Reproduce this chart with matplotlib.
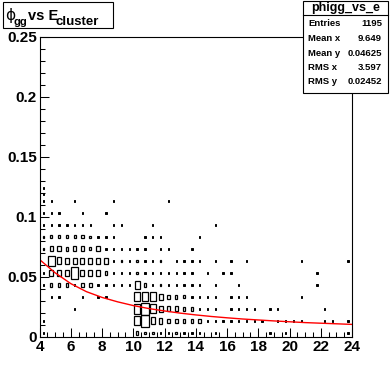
import numpy as np
import matplotlib
matplotlib.use("Agg")
import matplotlib.pyplot as plt
from matplotlib.patches import Rectangle

plt.rcParams["font.family"] = ["Liberation Sans", "DejaVu Sans"]
plt.rcParams["font.weight"] = "bold"

# ===== dados =====
# bins em x: 40 bins de 0.5 entre 4 e 24 (indice da coluna -> centro 4.25 + 0.5*c)
x_min, x_max, n_xbins = 4.0, 24.0, 40
y_bin = 0.01

# centro das linhas (phi_gg) que têm entradas
row_y = [0.0035, 0.0135, 0.0235, 0.0335, 0.0435, 0.0535, 0.0635,
         0.0735, 0.0835, 0.0935, 0.1035, 0.1135, 0.119, 0.1245]

# colunas ocupadas e contagens, linha a linha
row_cols = [
    [0, 12, 13, 14, 15, 16, 17, 18, 19, 20, 22, 29, 31, 39],
    [0, 12, 13, 14, 15, 16, 17, 18, 19, 20, 21, 22, 23, 24, 25, 26, 27, 28, 30, 31, 32, 33, 36, 37, 39],
    [4, 12, 13, 14, 15, 16, 17, 18, 19, 20, 21, 22, 24, 25, 26, 27, 29, 30, 36],
    [1, 2, 5, 7, 8, 12, 13, 14, 15, 16, 17, 18, 19, 20, 21, 22, 24, 25, 26, 33],
    [0, 1, 2, 3, 4, 5, 6, 7, 8, 9, 10, 11, 12, 13, 14, 15, 16, 17, 18, 19, 20, 22, 25, 35],
    [0, 1, 2, 3, 4, 5, 6, 7, 8, 9, 10, 11, 12, 13, 14, 15, 16, 17, 18, 19, 21, 23, 24, 35],
    [1, 2, 3, 4, 5, 6, 7, 8, 9, 10, 11, 12, 13, 14, 15, 17, 18, 19, 20, 22, 24, 26, 33, 39],
    [0, 1, 2, 3, 4, 5, 6, 7, 8, 9, 10, 11, 12, 13, 15, 16, 19],
    [0, 1, 2, 3, 4, 5, 6, 7, 8, 9, 13, 14, 15, 20],
    [0, 1, 2, 3, 4, 5, 6, 9, 10, 14, 22],
    [0, 1, 2, 5, 8],
    [0, 1, 4, 9, 16],
    [0],
    [0],
]
row_counts = [
    [1, 6, 3, 3, 1, 1, 3, 1, 1, 1, 1, 1, 1, 1],
    [1, 36, 60, 22, 14, 7, 8, 7, 7, 6, 1, 1, 1, 1, 1, 1, 1, 1, 1, 1, 1, 1, 1, 1, 1],
    [1, 48, 66, 36, 18, 10, 10, 6, 6, 2, 1, 1, 1, 1, 1, 1, 1, 1, 1],
    [1, 1, 1, 1, 1, 36, 38, 38, 17, 6, 6, 5, 1, 1, 1, 1, 1, 1, 1, 1],
    [1, 7, 7, 6, 2, 7, 8, 2, 1, 1, 1, 1, 29, 8, 1, 3, 1, 1, 1, 1, 1, 1, 1, 1],
    [2, 14, 19, 17, 60, 17, 19, 17, 7, 1, 1, 1, 3, 2, 1, 1, 1, 1, 1, 1, 1, 1, 1, 1],
    [50, 22, 17, 19, 17, 19, 14, 17, 1, 3, 1, 3, 1, 1, 3, 1, 1, 1, 1, 1, 1, 1, 1, 1],
    [3, 11, 11, 7, 11, 11, 5, 11, 1, 1, 1, 1, 2, 1, 1, 1, 1],
    [3, 5, 5, 5, 5, 5, 3, 1, 1, 1, 1, 1, 1, 1],
    [1, 1, 1, 1, 1, 2, 2, 1, 1, 1, 1],
    [1, 1, 1, 1, 1],
    [1, 1, 1, 1, 1],
    [1],
    [1],
]

# curva do ajuste (lida ponto a ponto)
curve_x = [4, 5, 6, 7, 8, 9, 10, 11, 12, 13, 14, 15, 16, 17, 18, 19, 20, 21, 22, 23, 24]
curve_y = [0.0646, 0.0535, 0.0445, 0.0378, 0.0330, 0.0293, 0.0262, 0.0237, 0.0217,
           0.0199, 0.0184, 0.0171, 0.0160, 0.0150, 0.0142, 0.0134, 0.0127, 0.0120,
           0.0115, 0.0110, 0.0105]

stats_labels = ["Entries", "Mean x", "Mean y", "RMS x", "RMS y"]
stats_values = ["1195", "9.649", "0.04625", "3.597", "0.02452"]

# ===== figura =====
W, H = 392, 376
fig = plt.figure(figsize=(W / 100, H / 100), dpi=100)
fig.patch.set_facecolor("white")

def fx(px):
    return px / W

def fy(py):
    return 1 - py / H

ax = fig.add_axes([fx(39.5), fy(337), (352 - 39.5) / W, (337 - 37) / H])
ax.set_xlim(x_min, x_max)
ax.set_ylim(0, 0.25)

x_step = (x_max - x_min) / n_xbins
nmax = max(max(c) for c in row_counts)
for yc, cols, counts in zip(row_y, row_cols, row_counts):
    for c, n in zip(cols, counts):
        xc = x_min + x_step * (c + 0.5)
        r = np.sqrt(n / nmax)
        hw = 0.5 * x_step * r
        hh = 0.5 * y_bin * r
        if hw < 0.05:
            # caixas muito pequenas viram um quadradinho cheio
            hw = max(hw, 0.045)
            hh = max(hh, 0.0009)
            ax.add_patch(Rectangle((xc - hw, yc - hh), 2 * hw, 2 * hh,
                                   facecolor="black", edgecolor="black", lw=0.7))
        else:
            ax.add_patch(Rectangle((xc - hw, yc - hh), 2 * hw, 2 * hh,
                                   facecolor="none", edgecolor="black", lw=0.9))

ax.plot(curve_x, curve_y, color="red", lw=1.0)

ax.set_xticks(np.arange(4, 25, 2))
ax.set_xticks(np.arange(4, 24.01, 0.5), minor=True)
ax.set_yticks([0, 0.05, 0.1, 0.15, 0.2, 0.25])
ax.set_yticklabels(["0", "0.05", "0.1", "0.15", "0.2", "0.25"])
ax.set_yticks(np.arange(0, 0.2501, 0.01), minor=True)
ax.tick_params(which="both", direction="in", top=False, right=False, width=0.75,
               labelsize=11)
ax.tick_params(which="major", length=6.5)
ax.tick_params(which="minor", length=3.6)
ax.tick_params(axis="y", pad=2)
ax.tick_params(axis="x", pad=2.5)
for lab in ax.get_xticklabels() + ax.get_yticklabels():
    lab.set_fontweight("bold")
for sp in ax.spines.values():
    sp.set_linewidth(0.8)

# ===== caixa do título =====
fig.add_artist(Rectangle((fx(2.7), fy(28.3)), (113 - 2.7) / W, (28.3 - 1.7) / H,
                         transform=fig.transFigure, facecolor="white",
                         edgecolor="black", lw=0.8, zorder=5))
fig.text(fx(5), fy(20), "\u03d5", fontsize=11, family="DejaVu Sans",
         fontweight="normal", va="baseline", zorder=6)
fig.text(fx(13.5), fy(25), "gg", fontsize=8, fontweight="bold", va="baseline", zorder=6)
fig.text(fx(28), fy(20), "vs E", fontsize=10.5, fontweight="bold", va="baseline", zorder=6)
fig.text(fx(56), fy(25), "cluster", fontsize=9.5, fontweight="bold", va="baseline", zorder=6)

# ===== caixa de estatísticas =====
fig.add_artist(Rectangle((fx(303.3), fy(92.7)), (388.3 - 303.3) / W, (92.7 - 0.7) / H,
                         transform=fig.transFigure, facecolor="white",
                         edgecolor="black", lw=0.8, zorder=5))
fig.add_artist(plt.Line2D([fx(303.3), fx(388.3)], [fy(15), fy(15)],
                          transform=fig.transFigure, color="black", lw=0.8, zorder=6))
fig.text(fx(345.8), fy(8), "phigg_vs_e", fontsize=9, fontweight="bold",
         ha="center", va="center", zorder=6)
for i, (lab, val) in enumerate(zip(stats_labels, stats_values)):
    ypos = fy(24 + 14.5 * i)
    fig.text(fx(308), ypos, lab, fontsize=6.8, fontweight="bold", va="center", zorder=6)
    fig.text(fx(382), ypos, val, fontsize=6.8, fontweight="bold", va="center",
             ha="right", zorder=6)

fig.savefig("out.png", dpi=100)
